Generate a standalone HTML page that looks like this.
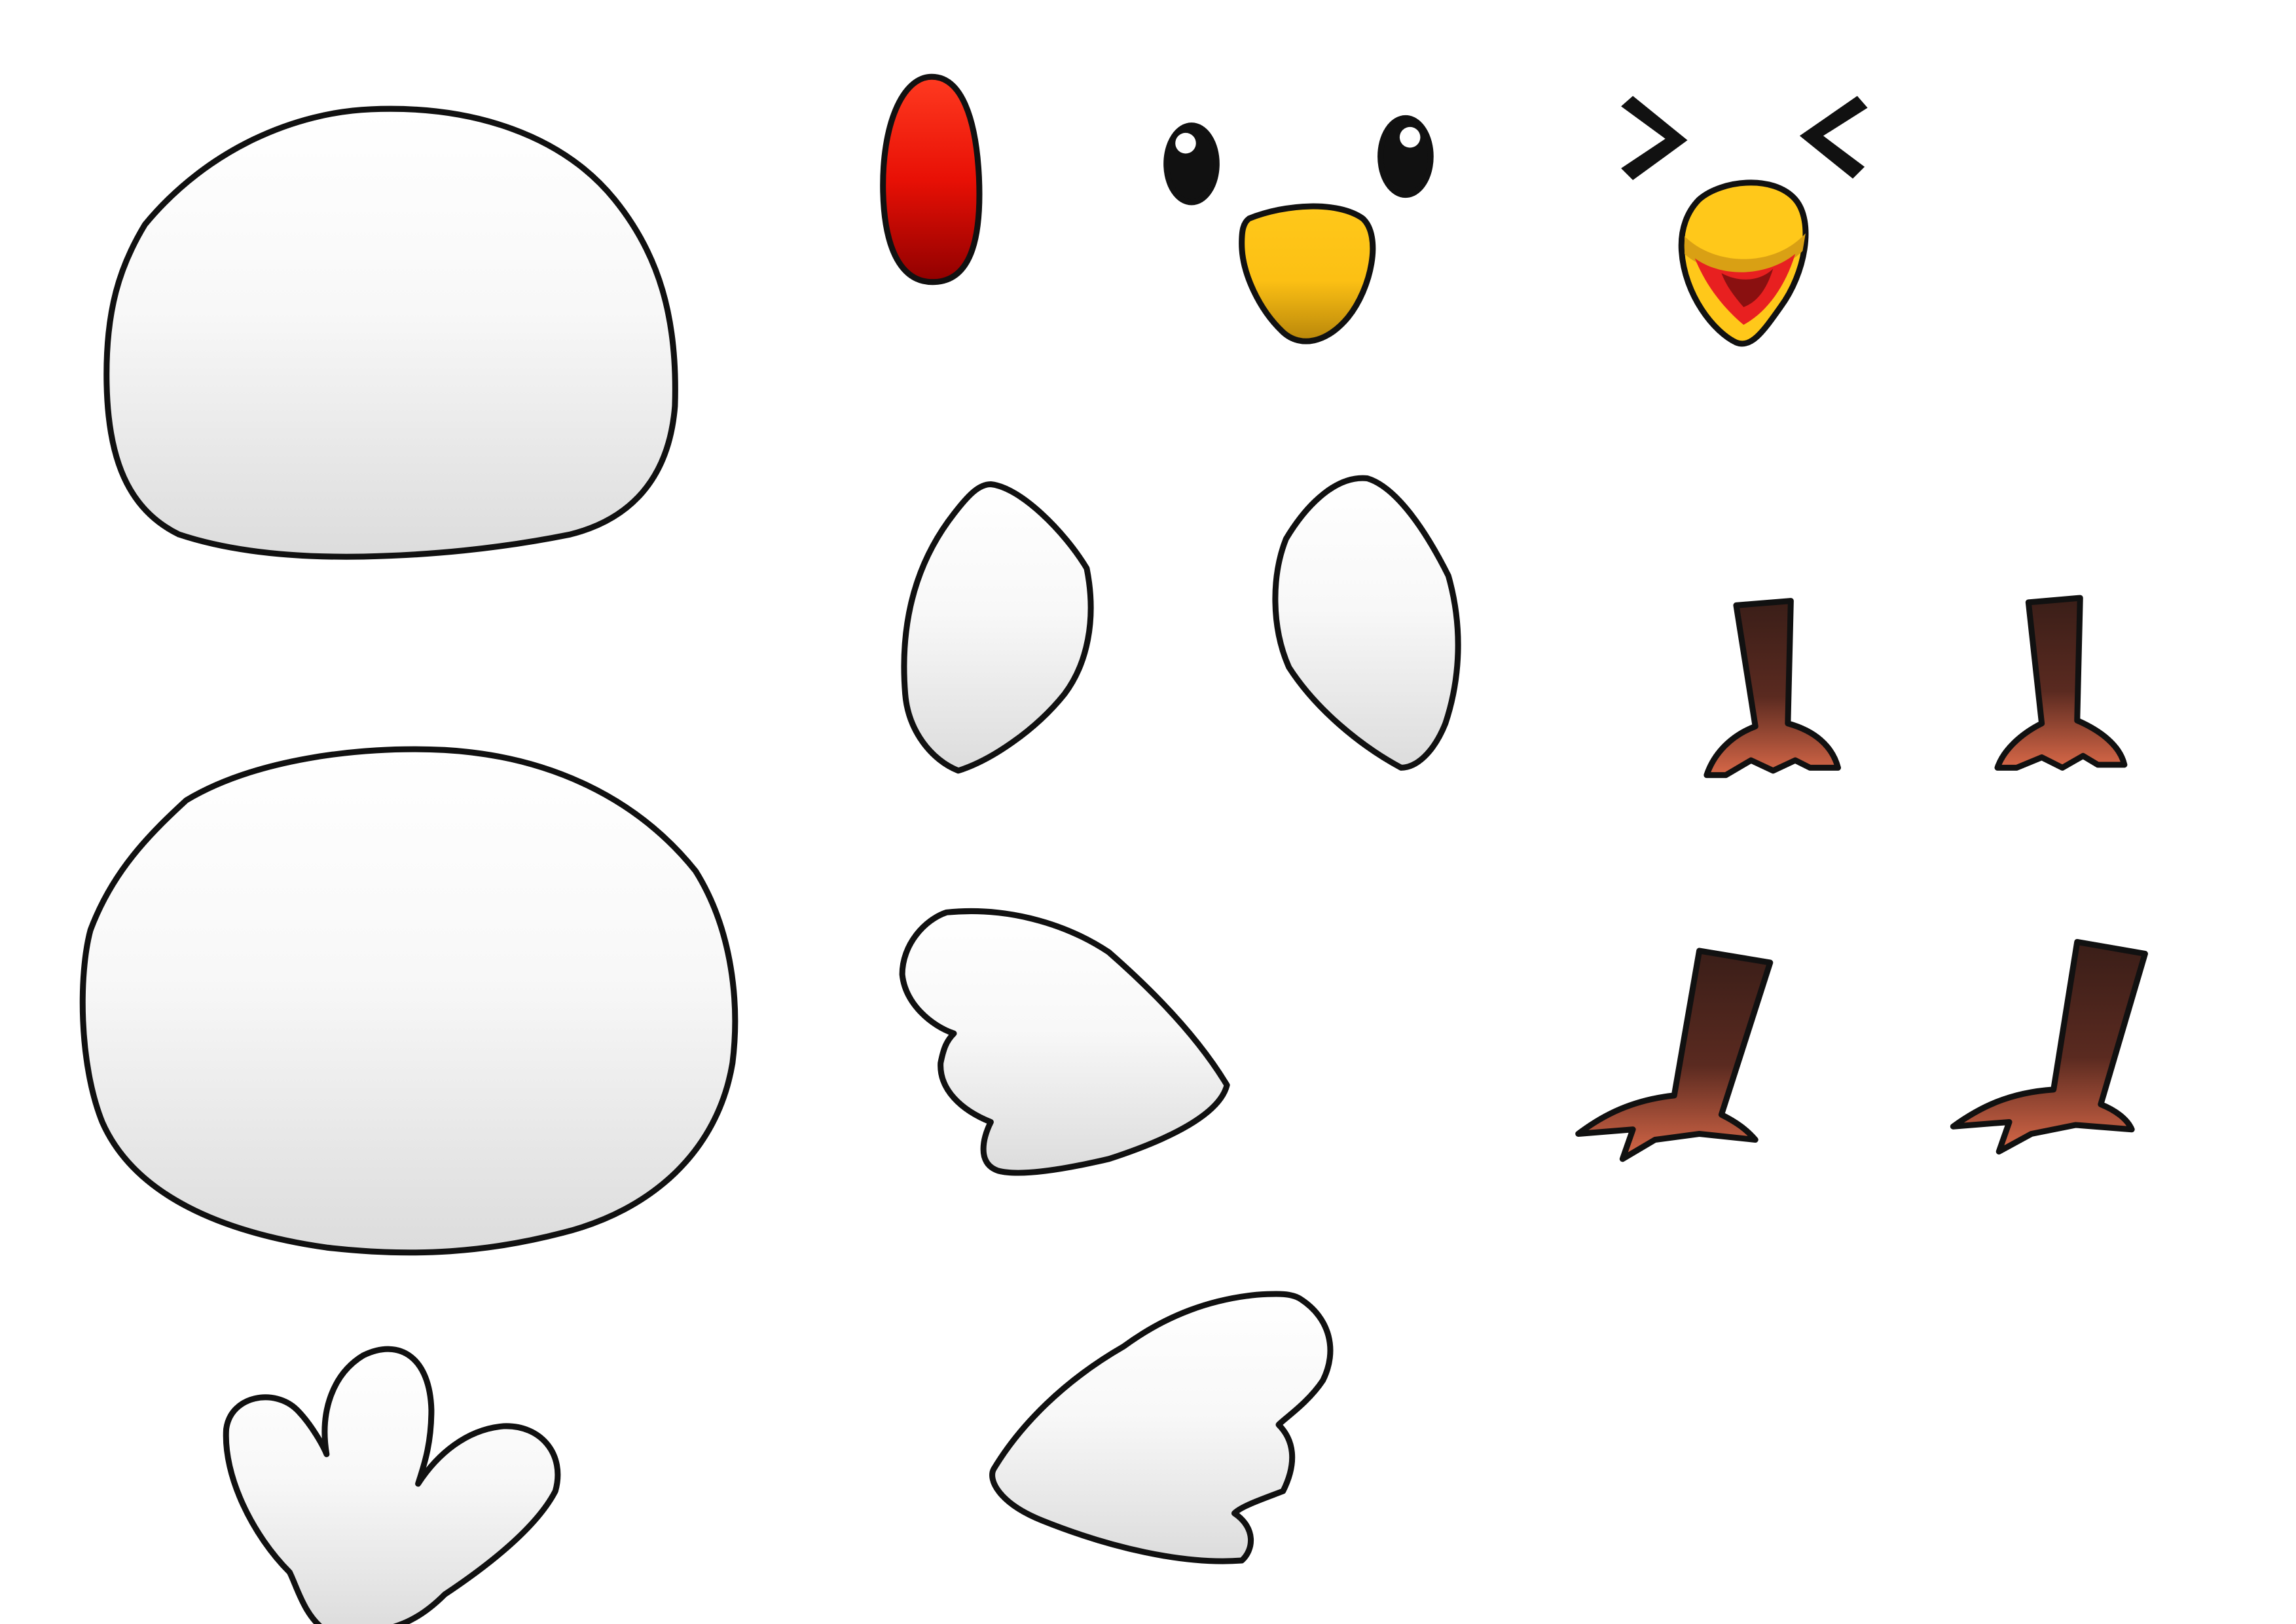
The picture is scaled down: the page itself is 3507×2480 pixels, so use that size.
<!DOCTYPE html>
<html><head><meta charset="utf-8"><style>
html,body{margin:0;padding:0;background:#fff;width:3507px;height:2480px;overflow:hidden}
svg{display:block}
</style></head><body>
<svg width="3507" height="2480" viewBox="0 0 1553 1100" xmlns="http://www.w3.org/2000/svg">
<defs>
<linearGradient id="wh" x1="0" y1="0" x2="0" y2="1"><stop offset="0" stop-color="#fff"/><stop offset="0.45" stop-color="#f8f8f8"/><stop offset="1" stop-color="#dcdcdc"/></linearGradient>
<linearGradient id="red" x1="0" y1="0" x2="0" y2="1"><stop offset="0" stop-color="#ff3a20"/><stop offset="0.5" stop-color="#e81005"/><stop offset="1" stop-color="#900000"/></linearGradient>
<linearGradient id="yel" x1="0" y1="0" x2="0" y2="1"><stop offset="0" stop-color="#ffc81a"/><stop offset="0.55" stop-color="#fcc014"/><stop offset="1" stop-color="#b8860a"/></linearGradient>
<linearGradient id="leg" x1="0" y1="0" x2="0" y2="1"><stop offset="0" stop-color="#3a1e18"/><stop offset="0.55" stop-color="#5a2a20"/><stop offset="1" stop-color="#d86848"/></linearGradient>
</defs>
<g stroke="#111" stroke-width="4" stroke-linejoin="round">
<path fill="url(#wh)" d="M97 152 C140 100 200 76 250 74 C320 71 380 92 415 135 C445 172 458 215 456 275 C452 325 425 352 385 362 C335 372 290 376 245 377 C190 378 150 372 120 362 C85 345 72 310 71 260 C70 210 80 180 97 152 Z"/>
<path fill="url(#wh)" d="M125 542 C170 515 240 505 300 508 C370 512 430 540 470 590 C495 630 500 680 495 720 C485 780 440 820 380 835 C330 848 280 852 220 845 C150 835 90 810 68 760 C52 720 52 660 60 630 C75 590 100 565 125 542 Z"/>
<path fill="url(#red)" d="M630 52 C650 52 660 80 662 120 C664 165 655 190 632 191 C610 192 598 170 597 130 C596 85 610 52 630 52 Z"/>
<ellipse cx="806" cy="111" rx="17" ry="26" fill="#111"/>
<circle cx="802" cy="97" r="7" fill="#fff" stroke="none"/>
<ellipse cx="951" cy="106" rx="17" ry="26" fill="#111"/>
<circle cx="954" cy="93" r="7" fill="#fff" stroke="none"/>
<path fill="url(#yel)" d="M845 148 C870 138 905 136 922 148 C935 160 928 195 912 215 C898 232 880 236 868 225 C852 210 840 185 840 165 C840 156 841 151 845 148 Z"/>
<path fill="#111" stroke="none" d="M1097 72 L1105 65 L1142 95 L1105 122 L1097 114 L1127 94 Z"/>
<path fill="#111" stroke="none" d="M1257 65 L1264 73 L1234 92 L1262 113 L1254 121 L1218 92 Z"/>
<path fill="#ffc81a" d="M1150 135 C1165 122 1200 118 1215 135 C1228 150 1222 185 1205 208 C1193 225 1185 236 1175 232 C1160 225 1140 200 1138 170 C1137 155 1142 143 1150 135 Z"/>
<path fill="#d9a014" stroke="none" d="M1140 160 C1160 180 1200 182 1222 158 L1220 170 C1200 190 1160 190 1140 172 Z"/>
<path fill="#e82020" stroke="none" d="M1147 175 C1165 188 1195 188 1215 172 C1208 195 1195 212 1180 220 C1168 210 1155 195 1147 175 Z"/>
<path fill="#8a1010" stroke="none" d="M1165 185 C1178 192 1192 190 1200 182 C1195 198 1188 205 1180 208 C1173 200 1168 193 1165 185 Z"/>
<path fill="url(#wh)" d="M670 328 C690 330 720 360 735 385 C742 420 735 450 720 470 C700 495 670 515 648 522 C630 515 614 495 612 470 C608 420 620 380 645 348 C655 335 662 328 670 328 Z"/>
<path fill="url(#wh)" d="M925 324 C945 330 965 360 980 390 C990 425 988 460 978 490 C970 510 958 520 948 520 C920 505 890 480 872 452 C860 425 860 390 870 365 C885 340 905 322 925 324 Z"/>
<path fill="url(#leg)" d="M1175 410 L1212 407 L1210 490 C1228 495 1240 505 1244 520 L1225 520 L1215 515 L1200 522 L1185 515 L1168 525 L1155 525 C1160 510 1172 498 1188 492 Z"/>
<path fill="url(#leg)" d="M1373 408 L1408 405 L1406 488 C1422 495 1435 505 1438 518 L1420 518 L1410 512 L1396 520 L1382 513 L1365 520 L1352 520 C1356 508 1368 497 1382 490 Z"/>
<path fill="url(#leg)" d="M1150 644 L1198 652 L1165 755 C1175 760 1182 765 1188 772 L1150 768 L1120 772 L1098 785 L1105 765 L1068 768 C1085 755 1105 745 1133 742 Z"/>
<path fill="url(#leg)" d="M1406 638 L1452 646 L1422 748 C1432 752 1440 758 1443 765 L1405 762 L1375 768 L1353 780 L1360 760 L1322 763 C1340 750 1360 740 1390 738 Z"/>
<path fill="url(#wh)" d="M640 618 C680 614 720 625 750 645 C790 680 815 710 830 735 C825 755 790 772 750 785 C720 792 690 797 675 793 C660 788 665 770 670 760 C650 752 635 738 636 720 C638 710 640 705 645 700 C630 695 612 680 610 660 C610 640 625 623 640 618 Z"/>
<path fill="url(#wh)" d="M880 880 C900 893 905 915 895 935 C885 950 870 960 865 965 C875 975 878 990 868 1010 C855 1015 840 1020 835 1025 C850 1035 848 1050 840 1057 C800 1060 750 1048 705 1030 C675 1018 668 1002 672 995 C690 965 720 935 760 912 C790 890 820 880 850 877 C865 876 874 876 880 880 Z"/>
<path fill="url(#wh)" d="M220 1105 C205 1095 200 1075 195 1065 C170 1040 150 1000 152 968 C155 945 185 940 200 955 C210 965 218 980 220 985 C215 955 225 930 245 918 C270 906 290 920 291 955 C291 980 285 995 282 1005 C295 985 315 968 340 966 C365 965 382 985 375 1010 C362 1035 330 1060 300 1080 C285 1095 270 1103 250 1105 C238 1106 228 1106 220 1105 Z"/>
</g>
</svg>
</body></html>
